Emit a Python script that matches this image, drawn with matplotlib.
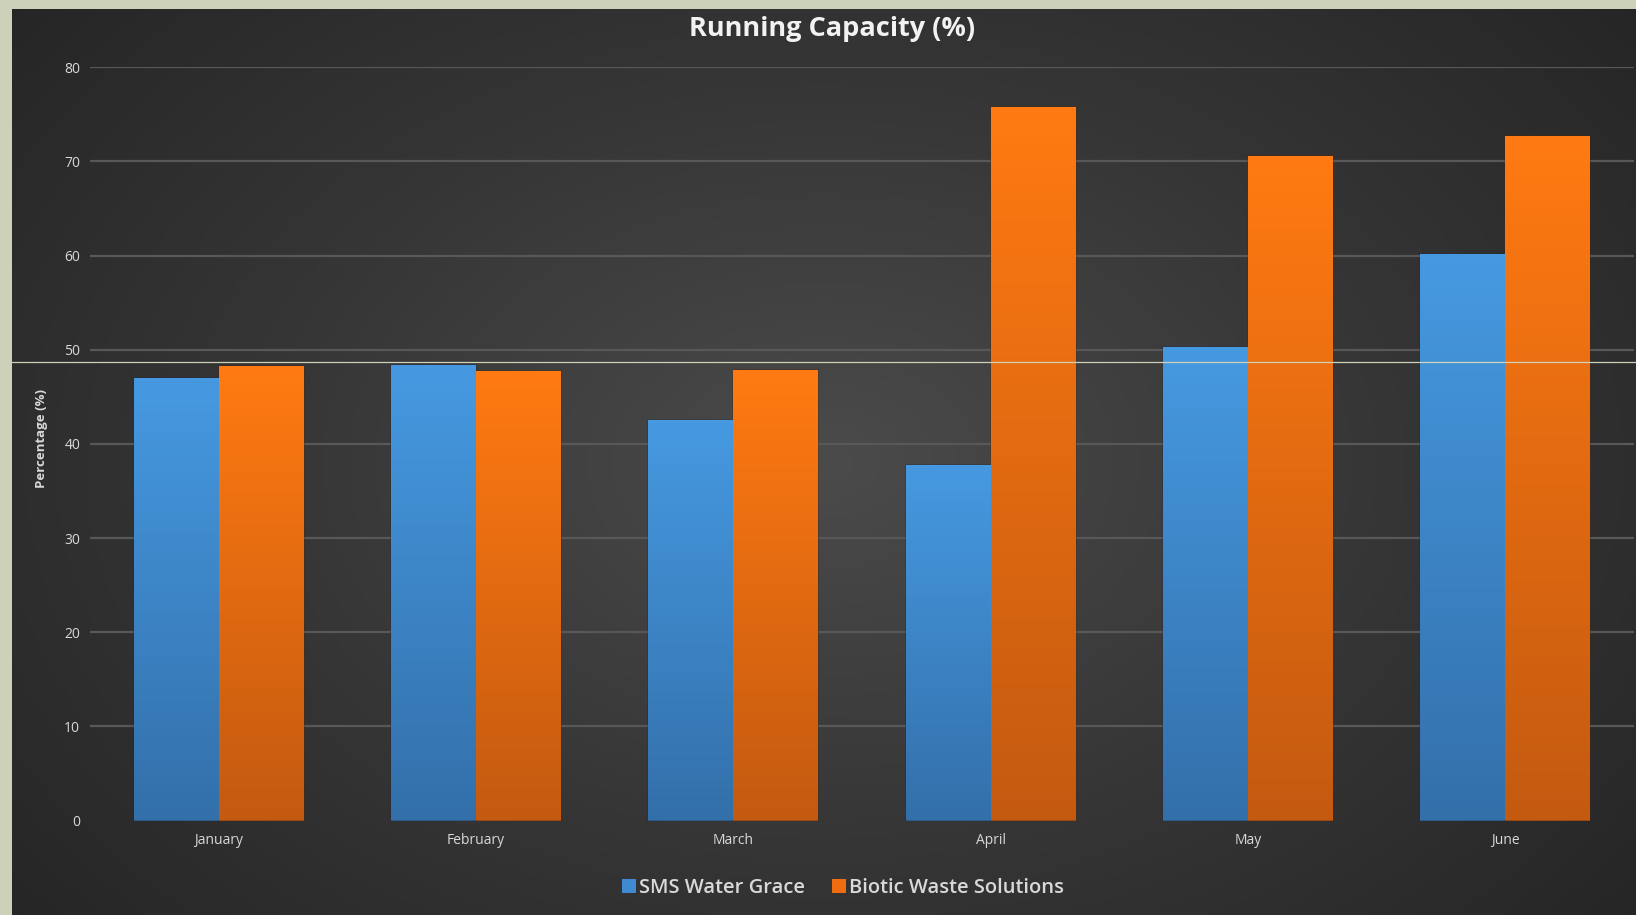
import numpy as np
import matplotlib.pyplot as plt
from matplotlib.colors import LinearSegmentedColormap
from matplotlib.lines import Line2D
from matplotlib.patches import Patch

# data
months = ["January", "February", "March", "April", "May", "June"]
sms_water_grace = [47.0, 48.4, 42.5, 37.8, 50.3, 60.2]
biotic_waste = [48.3, 47.7, 47.8, 75.8, 70.6, 72.7]
series_names = ["SMS Water Grace", "Biotic Waste Solutions"]
y_ticks = [0, 10, 20, 30, 40, 50, 60, 70, 80]

W, H = 1636, 915
BEIGE = "#cdd1ba"
TXT = "#d9d9d9"
blue_top, blue_bot = "#4699e1", "#3370aa"
orange_top, orange_bot = "#ff7a12", "#c45a10"

plt.rcParams["font.family"] = ["Open Sans", "DejaVu Sans"]

fig = plt.figure(figsize=(W / 100, H / 100), dpi=100, facecolor=BEIGE)

# dark radial background
bg = fig.add_axes([12 / W, 0, 1 - 12 / W, 1 - 9 / H], zorder=0)
yy, xx = np.mgrid[0:1:300j, 0:1:500j]
r = np.sqrt(((xx - 0.5) * 1.1) ** 2 + ((yy - 0.5) * 0.9) ** 2)
r = np.clip(r / 0.75, 0, 1)
bg_cmap = LinearSegmentedColormap.from_list("bg", ["#4b4b4b", "#363636", "#242424"])
bg.imshow(r, cmap=bg_cmap, aspect="auto", extent=[0, 1, 0, 1], vmin=0, vmax=1)
bg.set_axis_off()

ax = fig.add_axes([90 / W, 1 - 820.5 / H, (1634 - 90) / W, (820.5 - 67.3) / H], zorder=1)
ax.patch.set_alpha(0)

x = np.arange(len(months))
bw = 0.33
bars1 = ax.bar(x - bw / 2, sms_water_grace, bw, color=blue_bot,
               edgecolor=(0.1, 0.15, 0.25, 0.35), linewidth=1.2, zorder=2)
bars2 = ax.bar(x + bw / 2, biotic_waste, bw, color=orange_bot,
               edgecolor=(0.3, 0.15, 0.05, 0.4), linewidth=1.2, zorder=2)

# vertical gradient inside each bar
grad = np.linspace(1, 0, 100).reshape(-1, 1)
for bars, top, bot in [(bars1, blue_top, blue_bot), (bars2, orange_top, orange_bot)]:
    cm = LinearSegmentedColormap.from_list("g", [bot, top])
    for b in bars:
        x0, w, h = b.get_x(), b.get_width(), b.get_height()
        im = ax.imshow(grad, cmap=cm, aspect="auto", extent=[x0, x0 + w, 0, h],
                       vmin=0, vmax=1, zorder=2.5)
        im.set_clip_path(b)

ax.set_xlim(-0.5, len(months) - 0.5)
ax.set_ylim(0, 80)
ax.set_yticks(y_ticks)
ax.set_xticks(x)
ax.set_xticklabels(months)
ax.yaxis.grid(True, color="#585858", linewidth=1.6, zorder=1)
ax.get_ygridlines()[0].set_visible(False)
ax.set_axisbelow(True)
for s in ax.spines.values():
    s.set_visible(False)
ax.tick_params(length=0, colors=TXT, labelsize=10)
ax.tick_params(axis="y", pad=7)
ax.tick_params(axis="x", pad=9)

fig.text(42 / W, 1 - 438 / H, "Percentage (%)", rotation=90, color=TXT,
         fontsize=9.5, fontweight="bold", ha="center", va="center")
fig.text(832 / W, 1 - 29 / H, "Running Capacity (%)", color="#f2f2f2",
         fontsize=19.5, fontweight="bold", ha="center", va="center")

handles = [Patch(facecolor="#3f8ad0"), Patch(facecolor="#ef6c10")]
fig.legend(handles, series_names, loc="center", bbox_to_anchor=(843 / W, 1 - 888 / H),
           ncol=2, frameon=False, labelcolor=TXT,
           prop={"size": 14.5, "weight": "semibold"},
           handlelength=0.7, handleheight=0.7, handletextpad=0.15, columnspacing=1.3)

# thin light line crossing the picture
fig.add_artist(Line2D([12 / W, 1], [1 - 362 / H, 1 - 362 / H], color=BEIGE,
                      linewidth=0.9, zorder=5))

fig.savefig("out.png", dpi=100, facecolor=BEIGE)
